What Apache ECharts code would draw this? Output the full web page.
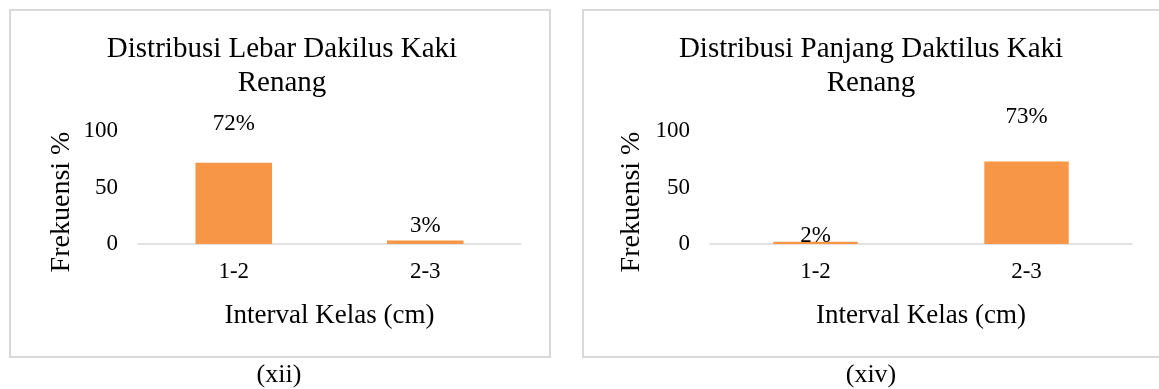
<!DOCTYPE html>
<html>
<head>
<meta charset="utf-8">
<script src="https://cdn.jsdelivr.net/npm/echarts@6/dist/echarts.min.js"></script>
<style>
  html, body { margin: 0; padding: 0; background: #ffffff; }
  #chart { width: 1159px; height: 389px; }
</style>
</head>
<body>
<div id="chart"></div>
<script>
// Class intervals shared by both panels
const categories = ['1-2', '2-3'];

// Frequency (%) per class interval
const lebarValues = [72, 3];     // digit width
const panjangValues = [2, 73];   // digit length

// Y-axis ticks
const yTicks = [0, 50, 100];

const panelTitles = [
  'Distribusi Lebar Dakilus Kaki\nRenang',
  'Distribusi Panjang Daktilus Kaki\nRenang'
];
const captions = ['(xii)', '(xiv)'];
const xAxisName = 'Interval Kelas (cm)';
const yAxisName = 'Frekuensi %';

const SERIF = '"Liberation Serif", "Times New Roman", serif';
const TEXT = '#000000';
const BAR = '#f79646';
const LINE = '#d9d9d9';

// label lift above each bar (px), per panel
const labelLift = [[27, 3], [-6, 33]];

const panels = [
  { values: lebarValues, left: 138, width: 383, titleX: 282, capX: 279, yNameX: 62 },
  { values: panjangValues, left: 710, width: 422, titleX: 871, capX: 871, yNameX: 632 }
];

const chart = echarts.init(document.getElementById('chart'), null, { renderer: 'canvas' });

const option = {
  backgroundColor: '#ffffff',
  animation: false,
  title: panels.map((p, i) => ({
    text: panelTitles[i],
    left: p.titleX,
    top: 32,
    textAlign: 'center',
    padding: 0,
    textStyle: { fontFamily: SERIF, fontSize: 29, fontWeight: 'normal', color: TEXT, lineHeight: 34 }
  })),
  grid: panels.map(p => ({ left: p.left, width: p.width, top: 131, height: 113, containLabel: false })),
  xAxis: panels.map((p, i) => ({
    type: 'category',
    gridIndex: i,
    data: categories,
    axisLine: { show: true, lineStyle: { color: LINE, width: 1.5 } },
    axisTick: { show: false },
    axisLabel: { fontFamily: SERIF, fontSize: 23, color: TEXT, margin: 16 },
    name: xAxisName,
    nameLocation: 'middle',
    nameGap: 58,
    nameTextStyle: { fontFamily: SERIF, fontSize: 27, color: TEXT }
  })),
  yAxis: panels.map((p, i) => ({
    type: 'value',
    gridIndex: i,
    min: yTicks[0],
    max: yTicks[yTicks.length - 1],
    interval: yTicks[1] - yTicks[0],
    axisLine: { show: false },
    axisTick: { show: false },
    splitLine: { show: false },
    axisLabel: { fontFamily: SERIF, fontSize: 23, color: TEXT, margin: 20 }
  })),
  series: panels.map((p, i) => ({
    type: 'bar',
    xAxisIndex: i,
    yAxisIndex: i,
    barWidth: '40%',
    itemStyle: { color: BAR },
    data: p.values.map((v, j) => ({
      value: v,
      label: { distance: labelLift[i][j] }
    })),
    label: {
      show: true,
      position: 'top',
      formatter: d => d.value + '%',
      fontFamily: SERIF,
      fontSize: 23,
      color: TEXT
    }
  })),
  graphic: [
    // panel frames
    { type: 'rect', shape: { x: 10, y: 10, width: 540, height: 347 },
      style: { fill: 'none', stroke: LINE, lineWidth: 2 }, silent: true },
    { type: 'rect', shape: { x: 583, y: 10, width: 600, height: 347 },
      style: { fill: 'none', stroke: LINE, lineWidth: 2 }, silent: true }
  ].concat(panels.map(p => ({
    // rotated y-axis titles
    type: 'text',
    x: p.yNameX,
    y: 202,
    rotation: Math.PI / 2,
    style: {
      text: yAxisName,
      fontFamily: SERIF,
      fontSize: 28,
      fill: TEXT,
      align: 'center',
      verticalAlign: 'middle'
    },
    silent: true
  }))).concat(panels.map((p, i) => ({
    // panel captions below the frames
    type: 'text',
    x: p.capX,
    y: 375,
    style: {
      text: captions[i],
      fontFamily: SERIF,
      fontSize: 26,
      fill: TEXT,
      align: 'center',
      verticalAlign: 'middle'
    },
    silent: true
  })))
};

chart.setOption(option);
</script>
</body>
</html>
